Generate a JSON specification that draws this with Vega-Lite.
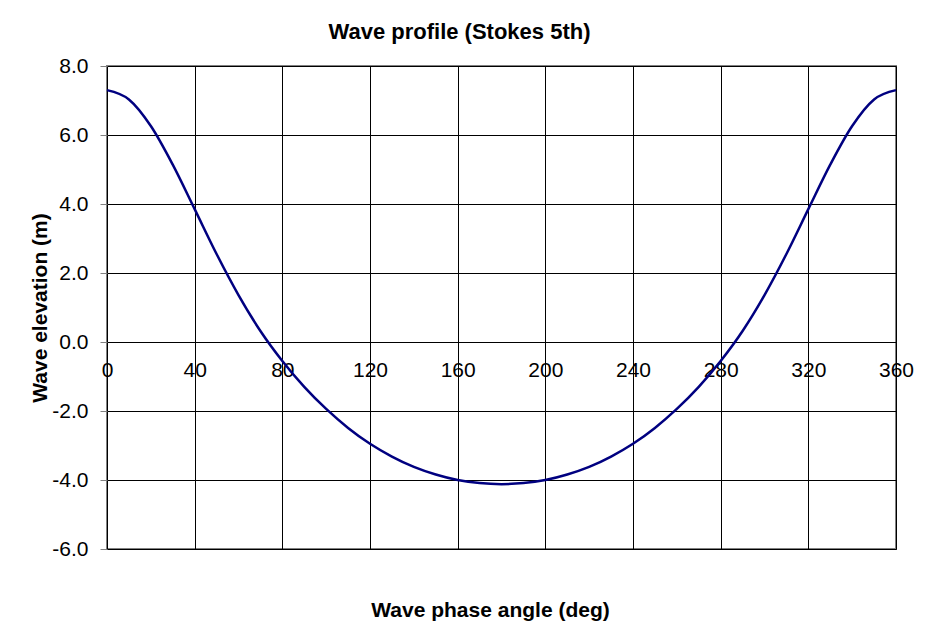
{
  "$schema": "https://vega.github.io/schema/vega-lite/v6.json",
  "width": 789,
  "height": 483,
  "autosize": {"type": "none"},
  "padding": {"left": 107, "top": 66, "right": 36, "bottom": 89},
  "background": "white",
  "title": {
    "text": "Wave profile (Stokes 5th)",
    "font": "Liberation Sans",
    "fontSize": 22,
    "fontWeight": "bold",
    "color": "black",
    "frame": "group",
    "anchor": "middle",
    "dx": -42,
    "offset": 11
  },
  "config": {
    "view": {"stroke": "#808080", "strokeWidth": 2},
    "axis": {
      "labelFont": "Liberation Sans",
      "labelFontSize": 21,
      "labelColor": "black",
      "titleFont": "Liberation Sans",
      "titleFontSize": 21,
      "titleFontWeight": "bold",
      "titleColor": "black",
      "grid": true,
      "gridColor": "black",
      "gridWidth": 1,
      "gridOpacity": 1,
      "domain": false
    }
  },
  "data": {
    "values": [
      {"phase": 0, "elevation": 7.30},
      {"phase": 10, "elevation": 7.03},
      {"phase": 20, "elevation": 6.26},
      {"phase": 30, "elevation": 5.14},
      {"phase": 40, "elevation": 3.85},
      {"phase": 50, "elevation": 2.55},
      {"phase": 60, "elevation": 1.36},
      {"phase": 70, "elevation": 0.32},
      {"phase": 80, "elevation": -0.55},
      {"phase": 90, "elevation": -1.30},
      {"phase": 100, "elevation": -1.94},
      {"phase": 110, "elevation": -2.49},
      {"phase": 120, "elevation": -2.95},
      {"phase": 130, "elevation": -3.32},
      {"phase": 140, "elevation": -3.62},
      {"phase": 150, "elevation": -3.84},
      {"phase": 160, "elevation": -4.00},
      {"phase": 170, "elevation": -4.09},
      {"phase": 180, "elevation": -4.12},
      {"phase": 190, "elevation": -4.09},
      {"phase": 200, "elevation": -4.00},
      {"phase": 210, "elevation": -3.84},
      {"phase": 220, "elevation": -3.62},
      {"phase": 230, "elevation": -3.32},
      {"phase": 240, "elevation": -2.95},
      {"phase": 250, "elevation": -2.49},
      {"phase": 260, "elevation": -1.94},
      {"phase": 270, "elevation": -1.30},
      {"phase": 280, "elevation": -0.55},
      {"phase": 290, "elevation": 0.32},
      {"phase": 300, "elevation": 1.36},
      {"phase": 310, "elevation": 2.55},
      {"phase": 320, "elevation": 3.85},
      {"phase": 330, "elevation": 5.14},
      {"phase": 340, "elevation": 6.26},
      {"phase": 350, "elevation": 7.03},
      {"phase": 360, "elevation": 7.30}
    ]
  },
  "mark": {"type": "line", "color": "#000080", "strokeWidth": 2.5, "interpolate": "monotone"},
  "encoding": {
    "x": {
      "field": "phase",
      "type": "quantitative",
      "scale": {"domain": [0, 360], "nice": false, "zero": false},
      "axis": {
        "title": "Wave phase angle (deg)",
        "values": [0, 40, 80, 120, 160, 200, 240, 280, 320, 360],
        "format": "d",
        "offset": -207,
        "ticks": false,
        "labelPadding": 17,
        "labelFlush": false,
        "titleX": 383,
        "titleY": 268,
        "titleBaseline": "middle",
        "titleAlign": "center"
      }
    },
    "y": {
      "field": "elevation",
      "type": "quantitative",
      "scale": {"domain": [-6, 8], "nice": false, "zero": false},
      "axis": {
        "title": "Wave elevation (m)",
        "values": [-6, -4, -2, 0, 2, 4, 6, 8],
        "labelExpr": "(datum.value < 0 ? '-' : '') + format(abs(datum.value), '.1f')",
        "ticks": true,
        "tickSize": 7,
        "tickColor": "#808080",
        "labelPadding": 12,
        "titleX": -67,
        "titleBaseline": "middle"
      }
    }
  }
}
